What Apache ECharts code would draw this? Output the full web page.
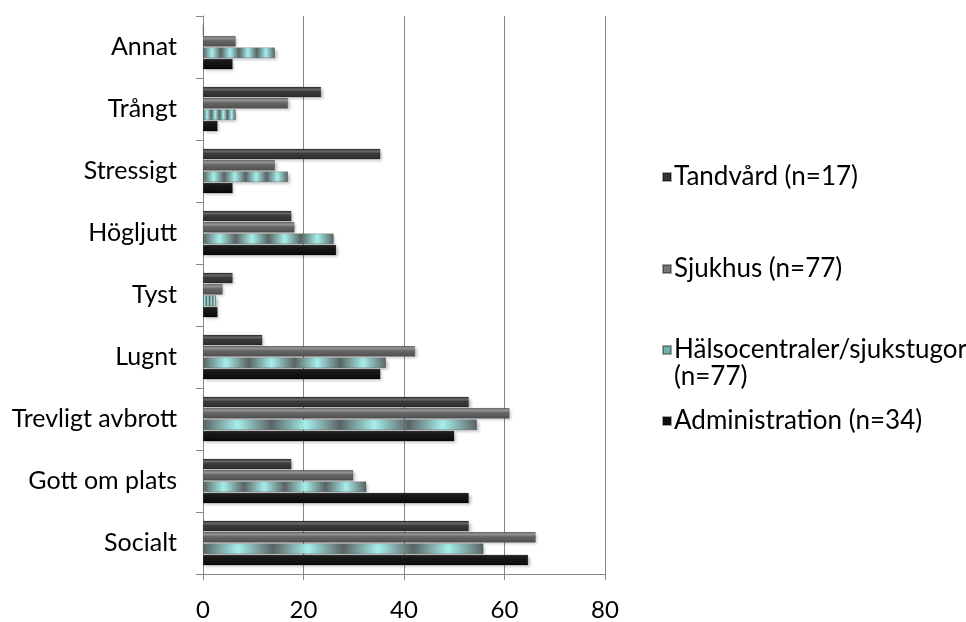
<!DOCTYPE html>
<html><head><meta charset="utf-8">
<script src="https://cdn.jsdelivr.net/npm/echarts@6/dist/echarts.min.js"></script>
<style>html,body{margin:0;padding:0;background:#fff}#c{width:966px;height:622px}</style>
</head><body><div id="c"></div>
<script>
var categories = ['Socialt','Gott om plats','Trevligt avbrott','Lugnt','Tyst','Högljutt','Stressigt','Trångt','Annat'];
var seriesNames = ['Tandvård (n=17)','Sjukhus (n=77)','Hälsocentraler/sjukstugor (n=77)','Administration (n=34)'];
var tandvard       = [52.9, 17.6, 52.9, 11.8, 5.9, 17.6, 35.3, 23.5, 0];
var sjukhus        = [66.2, 29.9, 61.0, 42.2, 3.9, 18.2, 14.3, 16.9, 6.5];
var halsocentraler = [55.8, 32.5, 54.5, 36.4, 2.6, 26.0, 16.9, 6.5, 14.3];
var administration = [64.7, 52.9, 50.0, 35.3, 2.9, 26.5, 5.9, 2.9, 5.9];
var xTicks = [0, 20, 40, 60, 80];

var FONT = 'Lato, "Open Sans", sans-serif';
function vgrad(stops){
  return {type:'linear',x:0,y:0,x2:0,y2:1,colorStops:stops.map(function(s){return {offset:s[0],color:s[1]};})};
}
var admColor = vgrad([[0,'#3c3c3c'],[0.2,'#1a1a1a'],[0.8,'#0e0e0e'],[1,'#000']]);
var tandColor = vgrad([[0,'#2a2a2a'],[0.25,'#6a6a6a'],[0.45,'#3c3c3c'],[1,'#2c2c2c']]);
var sjukColor = vgrad([[0,'#555'],[0.2,'#9a9a9a'],[0.45,'#666'],[1,'#505050']]);
var hStops = [];
for (var i=0;i<4;i++){
  hStops.push([i/4,'#5a6464']);
  hStops.push([i/4+0.125,'#a6efec']);
}
hStops.push([1,'#5a6464']);
var halsColor = {type:'linear',x:0,y:0,x2:1,y2:0,colorStops:hStops.map(function(s){return {offset:s[0],color:s[1]};})};

var colors = [tandColor, sjukColor, halsColor, admColor];
var legendIcon = ['#333','#777','#6fb3b0','#111'];
var datas = [tandvard, sjukhus, halsocentraler, administration];

var series = seriesNames.map(function(n,i){
  return {name:n,type:'bar',data:datas[i],barWidth:10.5,barGap:'8%',
    itemStyle:{color:colors[i],borderColor:'rgba(0,0,0,0.35)',borderWidth:0.5,
      shadowColor:'rgba(0,0,0,0.25)',shadowBlur:3,shadowOffsetX:2,shadowOffsetY:2},
    emphasis:{disabled:true}};
});

var legendTops = [163.5, 255.5, 309.5, 407.5];
var legends = seriesNames.map(function(n,k){
  return {data:[{name:n,itemStyle:{color:legendIcon[k]}}],left:662,top:legendTops[k],padding:0,
    itemWidth:8,itemHeight:8,icon:'rect',
    formatter:function(name){return name.indexOf('sjukstugor ')>=0 ? '\n'+name.replace('sjukstugor ','sjukstugor\n') : name;},
    textStyle:{fontFamily:FONT,fontSize:26,color:'#000',lineHeight:27,padding:[0,0,0,-2]}};
});

var chart = echarts.init(document.getElementById('c'));
chart.setOption({
  animation:false,
  legend:legends,
  grid:{left:203,top:16,width:402,height:560,containLabel:false},
  xAxis:{type:'value',min:0,max:80,interval:20,
    axisLine:{show:true,lineStyle:{color:'#868686',width:1}},
    axisTick:{show:true,length:6,lineStyle:{color:'#868686'}},
    splitLine:{show:true,lineStyle:{color:'#868686',width:1}},
    axisLabel:{fontFamily:FONT,fontSize:24,color:'#000',margin:24,
      formatter:function(v){return xTicks.indexOf(v)>=0?String(v):'';}}},
  yAxis:{type:'category',data:categories,
    axisLine:{show:true,lineStyle:{color:'#868686',width:1}},
    axisTick:{show:true,length:7,lineStyle:{color:'#868686'}},
    axisLabel:{fontFamily:FONT,fontSize:25,color:'#000',margin:26}},
  series:series
});
</script></body></html>
